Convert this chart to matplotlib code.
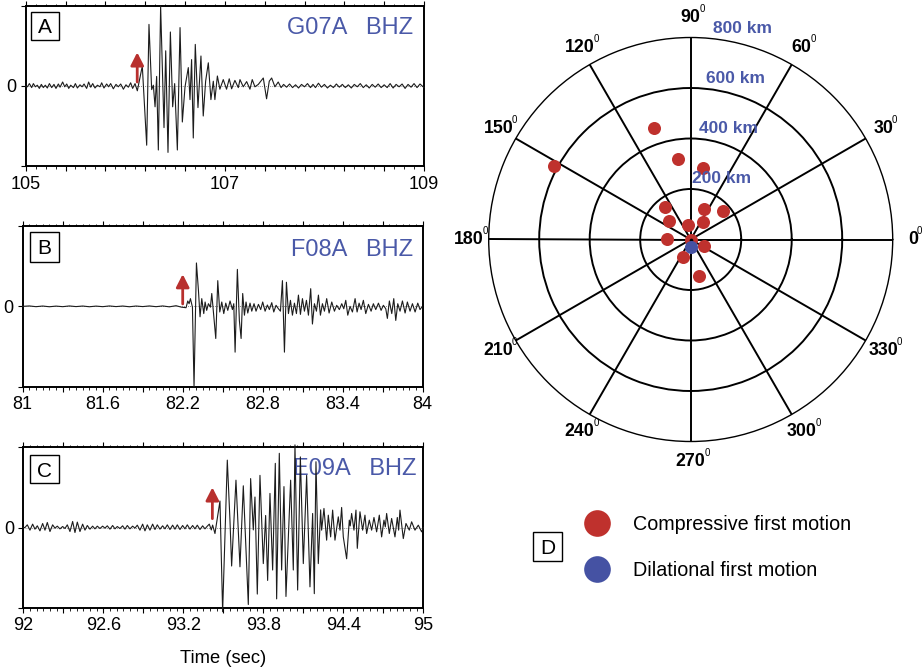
import numpy as np
import matplotlib
matplotlib.use("Agg")
import matplotlib.pyplot as plt
from matplotlib.ticker import MultipleLocator, FuncFormatter
from matplotlib.patches import Rectangle

plt.rcParams['font.family'] = ['Liberation Sans', 'DejaVu Sans']

# ---------------- data (time [s], normalised amplitude) ----------------
trace_a = [
    (105.000, 0.0), (105.017, -0.01), (105.037, 0.03), (105.060, -0.02), (105.077, 0.03),
    (105.097, -0.01), (105.117, 0.01), (105.137, -0.03), (105.157, 0.02), (105.177, -0.02),
    (105.197, 0.01), (105.217, -0.025), (105.238, 0.03), (105.261, -0.02), (105.284, 0.02),
    (105.304, -0.03), (105.328, 0.025), (105.345, -0.015), (105.371, 0.05), (105.392, -0.01),
    (105.412, 0.025), (105.432, -0.03), (105.452, 0.01), (105.479, -0.02), (105.499, 0.03),
    (105.519, -0.025), (105.545, 0.015), (105.566, -0.01), (105.586, 0.025), (105.612, -0.03),
    (105.632, 0.05), (105.653, -0.015), (105.673, 0.03), (105.696, -0.025), (105.720, 0.01),
    (105.746, -0.01), (105.763, 0.04), (105.786, -0.025), (105.813, 0.025), (105.833, -0.01),
    (105.853, 0.03), (105.880, -0.035), (105.907, 0.02), (105.930, -0.01), (105.954, 0.025),
    (105.981, -0.04), (106.007, 0.015), (106.031, -0.015), (106.054, 0.04), (106.074, -0.03),
    (106.098, 0.03), (106.121, -0.06), (106.171, 0.25), (106.215, -0.74), (106.238, 0.77),
    (106.265, -0.045), (106.282, 0.01), (106.299, -0.26), (106.315, 0.12), (106.332, -0.80),
    (106.355, 1.0), (106.389, -0.52), (106.406, 0.44), (106.429, -0.83), (106.453, 0.675),
    (106.476, -0.26), (106.496, 0.03), (106.523, -0.80), (106.550, 0.73), (106.573, -0.45),
    (106.600, -0.01), (106.633, 0.23), (106.650, -0.17), (106.666, 0.33), (106.683, -0.65),
    (106.703, 0.52), (106.730, -0.27), (106.760, 0.375), (106.783, -0.375), (106.807, 0.06),
    (106.834, 0.29), (106.860, -0.17), (106.884, 0.06), (106.900, -0.17), (106.925, 0.125),
    (106.950, -0.04), (106.984, 0.08), (107.017, -0.04), (107.044, 0.09), (107.068, -0.035),
    (107.101, 0.07), (107.135, -0.02), (107.152, 0.08), (107.185, -0.01), (107.219, 0.055),
    (107.252, -0.04), (107.275, 0.08), (107.302, -0.01), (107.336, 0.02), (107.386, 0.10),
    (107.419, -0.16), (107.446, 0.06), (107.470, 0.10), (107.503, -0.01), (107.536, 0.05),
    (107.565, -0.02), (107.590, 0.02), (107.620, -0.015), (107.650, 0.025), (107.680, -0.02),
    (107.710, 0.015), (107.740, -0.025), (107.770, 0.02), (107.800, -0.01), (107.830, 0.03),
    (107.860, -0.02), (107.885, 0.02), (107.910, -0.02), (107.940, 0.035), (107.970, -0.015),
    (108.000, 0.02), (108.030, -0.025), (108.060, 0.01), (108.090, -0.02), (108.120, 0.025),
    (108.150, -0.015), (108.180, 0.02), (108.210, -0.02), (108.240, 0.015), (108.270, -0.025),
    (108.300, 0.02), (108.330, -0.01), (108.360, 0.03), (108.390, -0.02), (108.420, 0.015),
    (108.450, -0.025), (108.480, 0.02), (108.510, -0.015), (108.540, 0.025), (108.570, -0.02),
    (108.600, 0.015), (108.630, -0.02), (108.660, 0.03), (108.690, -0.025), (108.720, 0.02),
    (108.750, -0.01), (108.780, 0.025), (108.810, -0.03), (108.840, 0.02), (108.870, -0.015),
    (108.900, 0.03), (108.930, -0.02), (108.960, 0.025), (109.000, -0.02),
]

trace_b = [
    (81.00, 0.0), (81.05, 0.005), (81.10, -0.004), (81.15, 0.004), (81.20, -0.005),
    (81.25, 0.003), (81.30, -0.004), (81.35, 0.005), (81.40, -0.003), (81.45, 0.004),
    (81.50, -0.005), (81.55, 0.003), (81.60, -0.004), (81.65, 0.005), (81.70, -0.003),
    (81.75, 0.004), (81.80, -0.005), (81.85, 0.004), (81.90, -0.003), (81.95, 0.005),
    (82.00, -0.004), (82.05, 0.005), (82.10, -0.006), (82.15, 0.008), (82.19, -0.01),
    (82.225, -0.017), (82.238, 0.067), (82.248, 0.033), (82.258, 0.096), (82.273, -0.01),
    (82.285, -1.0), (82.303, 0.54), (82.318, 0.20), (82.330, -0.13), (82.343, 0.096),
    (82.358, -0.09), (82.368, 0.054), (82.380, -0.05), (82.393, 0.033), (82.408, -0.01),
    (82.418, 0.16), (82.433, -0.125), (82.448, -0.40), (82.463, 0.32), (82.478, -0.07),
    (82.493, 0.054), (82.508, -0.09), (82.523, 0.04), (82.538, -0.05), (82.555, 0.067),
    (82.573, -0.04), (82.583, 0.033), (82.593, -0.57), (82.610, 0.46), (82.625, -0.175),
    (82.638, -0.40), (82.650, 0.16), (82.663, -0.11), (82.675, 0.054), (82.688, -0.083),
    (82.705, 0.04), (82.718, -0.06), (82.735, 0.033), (82.750, -0.06), (82.768, 0.025),
    (82.785, -0.04), (82.800, 0.054), (82.818, -0.06), (82.835, 0.017), (82.850, -0.04),
    (82.868, 0.046), (82.883, -0.07), (82.900, 0.013), (82.918, -0.03), (82.933, -0.06),
    (82.948, 0.32), (82.963, -0.57), (82.978, 0.30), (82.993, -0.09), (83.008, 0.075),
    (83.023, -0.11), (83.038, 0.04), (83.053, -0.09), (83.068, 0.14), (83.083, -0.10),
    (83.098, 0.096), (83.113, -0.06), (83.128, 0.075), (83.143, -0.11), (83.160, 0.22),
    (83.173, -0.22), (83.188, 0.033), (83.203, -0.06), (83.218, 0.14), (83.233, -0.11),
    (83.248, 0.033), (83.263, -0.06), (83.280, 0.096), (83.298, -0.083), (83.318, 0.054),
    (83.338, -0.06), (83.355, 0.013), (83.375, -0.04), (83.393, 0.033), (83.408, -0.03),
    (83.423, 0.075), (83.438, -0.11), (83.455, 0.0), (83.473, -0.07), (83.493, 0.096),
    (83.508, -0.07), (83.523, 0.04), (83.538, -0.04), (83.555, 0.075), (83.573, -0.09),
    (83.593, 0.025), (83.613, -0.06), (83.630, 0.033), (83.648, -0.04), (83.668, 0.04),
    (83.688, -0.05), (83.705, 0.013), (83.723, -0.03), (83.735, -0.15), (83.750, 0.067),
    (83.768, -0.09), (83.783, 0.096), (83.798, -0.175), (83.813, 0.033), (83.830, -0.06),
    (83.848, 0.067), (83.868, -0.083), (83.885, 0.054), (83.905, -0.06), (83.923, 0.033),
    (83.943, -0.07), (83.963, 0.04), (83.980, -0.04), (83.993, -0.01),
]

trace_c = [
    (92.000, 0.0), (92.0125, 0.0), (92.030, 0.033), (92.050, -0.033), (92.070, 0.042),
    (92.0875, -0.021), (92.105, 0.021), (92.125, -0.042), (92.145, 0.05), (92.1625, -0.033),
    (92.180, 0.0625), (92.200, -0.05), (92.220, 0.033), (92.2375, -0.008), (92.255, 0.017),
    (92.275, -0.017), (92.295, 0.0125), (92.3125, -0.0125), (92.330, 0.033), (92.350, -0.05),
    (92.370, 0.075), (92.3875, -0.0625), (92.405, 0.067), (92.425, -0.05), (92.445, 0.042),
    (92.4625, -0.033), (92.480, 0.025), (92.500, -0.021), (92.520, 0.017), (92.5375, -0.017),
    (92.555, 0.017), (92.575, -0.0125), (92.595, 0.017), (92.6125, -0.008), (92.630, 0.021),
    (92.650, -0.021), (92.670, 0.025), (92.6875, -0.017), (92.705, 0.0125), (92.725, -0.0125),
    (92.745, 0.021), (92.7625, -0.021), (92.780, 0.025), (92.800, -0.017), (92.820, 0.017),
    (92.8375, -0.008), (92.855, 0.029), (92.875, -0.033), (92.895, 0.042), (92.9125, -0.042),
    (92.930, 0.033), (92.950, -0.033), (92.970, 0.042), (92.9875, -0.025), (93.005, 0.033),
    (93.025, -0.021), (93.045, 0.021), (93.0625, -0.017), (93.080, 0.033), (93.100, -0.025),
    (93.120, 0.029), (93.1375, -0.021), (93.155, 0.033), (93.175, -0.025), (93.195, 0.025),
    (93.2125, -0.017), (93.230, 0.033), (93.250, -0.021), (93.270, 0.025), (93.2875, -0.017),
    (93.305, 0.029), (93.325, -0.025), (93.345, 0.021), (93.3625, -0.017), (93.380, 0.017),
    (93.395, 0.042), (93.410, -0.03), (93.420, 0.03), (93.4375, -0.075), (93.475, 0.33),
    (93.495, -1.05), (93.530, 0.84), (93.550, 0.09), (93.5625, -0.48), (93.595, 0.59),
    (93.625, -0.49), (93.650, 0.52), (93.6875, -0.96), (93.705, 0.61), (93.725, -0.03),
    (93.7375, 0.38), (93.755, -0.83), (93.775, 0.65), (93.800, -0.45), (93.8175, 0.15),
    (93.8325, -0.66), (93.850, 0.425), (93.870, -0.53), (93.890, 0.80), (93.900, -0.89),
    (93.920, 0.925), (93.9375, -0.53), (93.955, 0.51), (93.970, -0.86), (93.990, -0.03),
    (94.005, 0.59), (94.025, -0.53), (94.0375, 1.03), (94.0575, -0.78), (94.078, 0.88),
    (94.100, -0.45), (94.125, 0.65), (94.150, -0.74), (94.170, 0.175), (94.1825, -0.825),
    (94.195, 0.82), (94.2125, -0.45), (94.230, 0.22), (94.2375, -0.033), (94.255, 0.2375),
    (94.275, -0.158), (94.2875, 0.154), (94.305, -0.117), (94.320, 0.217), (94.3375, -0.158),
    (94.3625, 0.133), (94.375, -0.033), (94.3875, 0.25), (94.400, -0.117), (94.425, -0.39),
    (94.445, 0.092), (94.452, 0.02), (94.4625, 0.175), (94.480, -0.033), (94.495, 0.217),
    (94.505, -0.26), (94.525, 0.196), (94.545, -0.033), (94.5625, 0.154), (94.575, -0.075),
    (94.595, 0.092), (94.6125, -0.033), (94.630, 0.125), (94.650, -0.054), (94.670, 0.154),
    (94.6875, -0.117), (94.705, 0.092), (94.715, 0.008), (94.725, 0.175), (94.745, -0.075),
    (94.7625, 0.1125), (94.7875, -0.117), (94.805, 0.125), (94.815, -0.033), (94.825, 0.217),
    (94.850, -0.138), (94.870, 0.05), (94.895, -0.033), (94.9125, 0.071), (94.9375, -0.033),
    (94.9625, 0.029), (94.9875, -0.054), (95.000, 0.0),
]

a_ticklabels = [105, 107, 109]
b_ticklabels = [81, 81.6, 82.2, 82.8, 83.4, 84]
c_ticklabels = [92, 92.6, 93.2, 93.8, 94.4, 95]
pick_times = [106.12, 82.20, 93.418]
pick_arrow_amp = [(0.05, 0.42), (0.03, 0.40), (0.11, 0.50)]
stations = ["G07A   BHZ", "F08A   BHZ", "E09A   BHZ"]
panel_letters = ["A", "B", "C"]

comp_azimuth = [108, 151.6, 99, 80.5, 128, 66.6, 41, 140, 54, 101, 178, 0, 333, 247, 283]
comp_distance = [464, 615, 321, 288, 164, 132, 170, 114, 85, 57, 93, 0, 61, 76, 150]
dil_azimuth = [270]
dil_distance = [30]
azimuth_ticks = [0, 30, 60, 90, 120, 150, 180, 210, 240, 270, 300, 330]
ring_km = [200, 400, 600, 800]
ring_labels = ["200 km", "400 km", "600 km", "800 km"]
legend_labels = ["Compressive first motion", "Dilational first motion"]

RED = '#bf312d'
BLUE = '#4552a3'
TXTBLUE = '#4a59a8'
ARROW = '#b8302e'

# ---------------- figure ----------------
W, H = 924, 672
fig = plt.figure(figsize=(W / 100, H / 100), dpi=100)


def rect_px(l, t, r, b):
    return [l / W, 1 - b / H, (r - l) / W, (b - t) / H]


panels = [
    dict(rect=(25.7, 6, 424, 166), data=trace_a, xlim=(105, 109), major=0.4, minor=0.1,
         labels=a_ticklabels, st_xy=(0.972, 0.823)),
    dict(rect=(22.7, 226, 422.7, 386.7), data=trace_b, xlim=(81, 84), major=0.3, minor=0.05,
         labels=b_ticklabels, st_xy=(0.976, 0.813)),
    dict(rect=(23.3, 447.3, 423.3, 607.7), data=trace_c, xlim=(92, 95), major=0.3, minor=0.05,
         labels=c_ticklabels, st_xy=(0.9835, 0.827)),
]

for i, p in enumerate(panels):
    ax = fig.add_axes(rect_px(*p['rect']))
    t = [v[0] for v in p['data']]
    a = [v[1] for v in p['data']]
    ax.plot(t, a, color='#1c1c1c', lw=0.8, zorder=3, clip_on=False)
    ax.axhline(0, color='#666666', lw=0.6, ls=(0, (1, 1.5)), zorder=2)
    ax.set_xlim(*p['xlim'])
    ax.set_ylim(-1, 1)
    ax.xaxis.set_major_locator(MultipleLocator(p['major'], offset=p['xlim'][0]))
    ax.xaxis.set_minor_locator(MultipleLocator(p['minor'], offset=p['xlim'][0]))
    labs = p['labels']
    ax.xaxis.set_major_formatter(FuncFormatter(
        lambda v, pos, labs=labs: ('%g' % round(v, 2)) if any(abs(v - l) < 1e-6 for l in labs) else ''))
    ax.tick_params(axis='x', which='both', direction='out', top=True, bottom=True)
    ax.tick_params(axis='x', which='major', length=3.5, width=0.8, labelsize=13, pad=3.5)
    ax.tick_params(axis='x', which='minor', length=1.8, width=0.6)
    ax.set_yticks([-1, 0, 1])
    ax.set_yticklabels(['', '0', ''])
    ax.tick_params(axis='y', direction='out', length=3.5, width=0.8, labelsize=13, pad=3, right=False)
    for s in ax.spines.values():
        s.set_linewidth(1.4)
    base, top = pick_arrow_amp[i]
    ax.annotate('', xy=(pick_times[i], top), xytext=(pick_times[i], base),
                arrowprops=dict(arrowstyle='-|>,head_length=0.55,head_width=0.28', color=ARROW,
                                lw=2.0, shrinkA=0, shrinkB=0, mutation_scale=14), zorder=4)
    ax.text(p['st_xy'][0], p['st_xy'][1], stations[i], transform=ax.transAxes, ha='right',
            va='baseline', fontsize=17, color=TXTBLUE, zorder=1)

# ---------------- polar panel D ----------------
cx, cy, R = 690.7, 239.5, 202
pax = fig.add_axes(rect_px(cx - R, cy - R, cx + R, cy + R), projection='polar')
pax.set_theta_zero_location('E')
pax.set_theta_direction(1)
pax.set_ylim(0, ring_km[-1])
pax.set_yticks(ring_km[:-1])
pax.set_yticklabels([])
pax.set_xticks(np.deg2rad(azimuth_ticks))
pax.set_xticklabels([])
pax.tick_params(length=0)
pax.grid(True, color='black', lw=1.4)
pax.set_axisbelow(True)
pax.spines['polar'].set_linewidth(1.0)

pax.scatter(np.deg2rad(comp_azimuth), comp_distance, s=88, color=RED, zorder=3,
            linewidths=0, clip_on=False)
pax.scatter([0], [0], s=7, color='black', zorder=4, linewidths=0)
pax.scatter(np.deg2rad(dil_azimuth), dil_distance, s=88, color=BLUE, zorder=5, linewidths=0)

lab_r = 880
for ang in azimuth_ticks:
    num = pax.annotate('%d' % ang, xy=(np.deg2rad(ang), lab_r), ha='center', va='center',
                       fontsize=12.8, fontweight='bold', annotation_clip=False)
    pax.annotate('0', xy=(1, 1), xycoords=num, xytext=(1.2, 0.0), textcoords='offset points',
                 ha='center', va='center', fontsize=7, annotation_clip=False)

ring_label_pos = [(63, 270), (71.3, 464), (74.4, 662), (76.3, 861)]
for lab, (th, r) in zip(ring_labels, ring_label_pos):
    pax.text(np.deg2rad(th), r, lab, ha='center', va='center', fontsize=12.5,
             fontweight='bold', color=TXTBLUE, zorder=6)

# ---------------- overlay: boxes, legend, axis title ----------------
ov = fig.add_axes([0, 0, 1, 1])
ov.set_xlim(0, W)
ov.set_ylim(H, 0)
ov.axis('off')
ov.patch.set_alpha(0)

letter_boxes = [(30.7, 11.7, 28.6, 28.3, 45.0, 33.3),
                (30.0, 231.7, 29.3, 30.0, 44.7, 254.0),
                (30.0, 455.0, 29.3, 28.3, 44.7, 476.7)]
for (x0, y0, w, h, tx, ty), letter in zip(letter_boxes, panel_letters):
    ov.add_patch(Rectangle((x0, y0), w, h, fill=True, fc='white', ec='black', lw=1.0))
    ov.text(tx, ty, letter, ha='center', va='baseline', fontsize=15)

ov.add_patch(Rectangle((533.3, 531.7), 29, 29, fill=True, fc='white', ec='black', lw=1.0))
ov.text(547.8, 554.0, 'D', ha='center', va='baseline', fontsize=15)

ov.plot([596.7], [523.3], 'o', ms=19.2, color=RED, mec='none')
ov.plot([596.7], [569.3], 'o', ms=19.2, color=BLUE, mec='none')
ov.text(633.3, 530.0, legend_labels[0], ha='left', va='baseline', fontsize=14.2)
ov.text(633.3, 576.0, legend_labels[1], ha='left', va='baseline', fontsize=14.2)

ov.text(223, 663.3, 'Time (sec)', ha='center', va='baseline', fontsize=13.2)

fig.savefig('out.png', dpi=100)
